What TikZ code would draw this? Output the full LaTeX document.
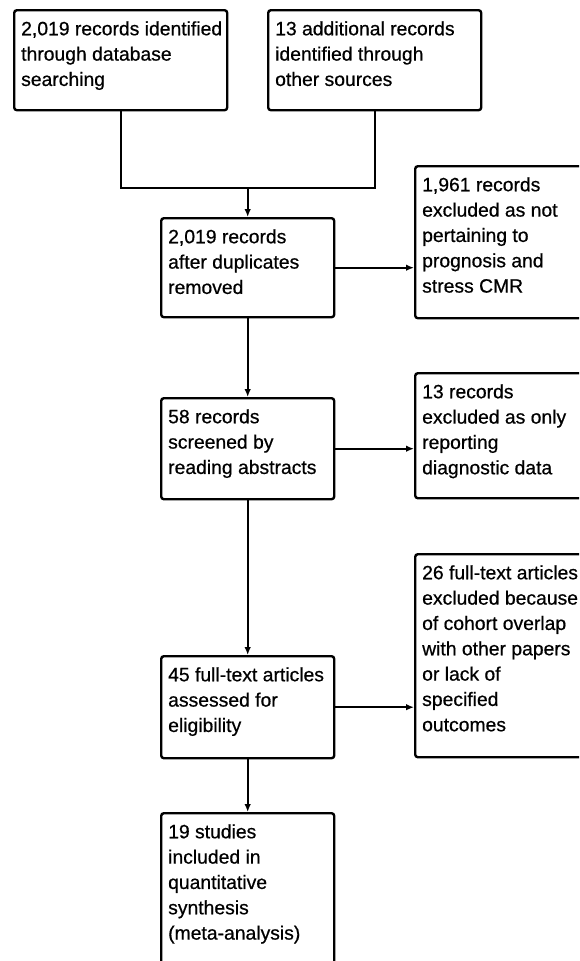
\documentclass[tikz,border=0pt]{standalone}
\usepackage{fontspec}
\setmainfont{Liberation Sans}[BoldFont=Liberation Sans,BoldFeatures={FakeBold=0.6}]
\usetikzlibrary{arrows.meta,calc}

\tikzset{
  prbox/.style={draw,line width=1.8pt,rounded corners=2pt,anchor=north west,
    inner xsep=5.25pt,inner ysep=5.5pt,font=\fontsize{14.5}{19}\selectfont\bfseries},
  flow/.style={line width=1.8pt,-{Latex[length=6pt,width=5pt]}}
}
\newcommand{\boxtxt}[3]{\parbox[c][#2][t]{#1}{\begin{tabular}[t]{@{}l@{}}#3\end{tabular}}}

\begin{document}
\begin{tikzpicture}[x=0.75pt,y=-0.75pt]
\path[use as bounding box] (0,0) rectangle (579,961);
\clip (0,0) rectangle (579,961);

% identification
\node[prbox] (db) at (13,9) {\boxtxt{149.25pt}{64pt}{2,019 records identified\\through database\\searching}};
\node[prbox] (oth) at (267,9) {\boxtxt{149.25pt}{64pt}{13 additional records\\identified through\\other sources}};

% main column
\node[prbox] (dup) at (160,217) {\boxtxt{119.25pt}{63.25pt}{2,019 records\\after duplicates\\removed}};
\node[prbox] (scr) at (160,397) {\boxtxt{119.25pt}{64.75pt}{58 records\\screened by\\reading abstracts}};
\node[prbox] (full) at (160,655) {\boxtxt{119.25pt}{65.5pt}{45 full-text articles\\assessed for\\eligibility}};
\node[prbox] (incl) at (160,812) {\boxtxt{119.25pt}{116.5pt}{19 studies\\included in\\quantitative\\synthesis\\(meta-analysis)}};

% exclusions
\node[prbox] (exdup) at (414,165) {\boxtxt{139.5pt}{103pt}{1,961 records\\excluded as not\\pertaining to\\prognosis and\\stress CMR}};
\node[prbox] (exscr) at (414,372) {\boxtxt{139.5pt}{82.75pt}{13 records\\excluded as only\\reporting\\diagnostic data}};
\node[prbox] (exfull) at (414,553) {\boxtxt{139.5pt}{141.25pt}{26 full-text articles\\excluded because\\of cohort overlap\\with other papers\\or lack of\\specified\\outcomes}};

\coordinate (join) at ($(dup.north)+(0,-29)$);

\draw[line width=1.8pt] (db.south) |- (join) -| (oth.south);
\draw[flow] (join) -- (dup.north);
\draw[flow] (dup.south) -- (scr.north);
\draw[flow] (scr.south) -- (full.north);
\draw[flow] (full.south) -- (incl.north);

\draw[flow] (dup.east) -- (dup.east -| exdup.west);
\draw[flow] (scr.east) -- (scr.east -| exscr.west);
\draw[flow] (full.east) -- (full.east -| exfull.west);

\end{tikzpicture}
\end{document}
